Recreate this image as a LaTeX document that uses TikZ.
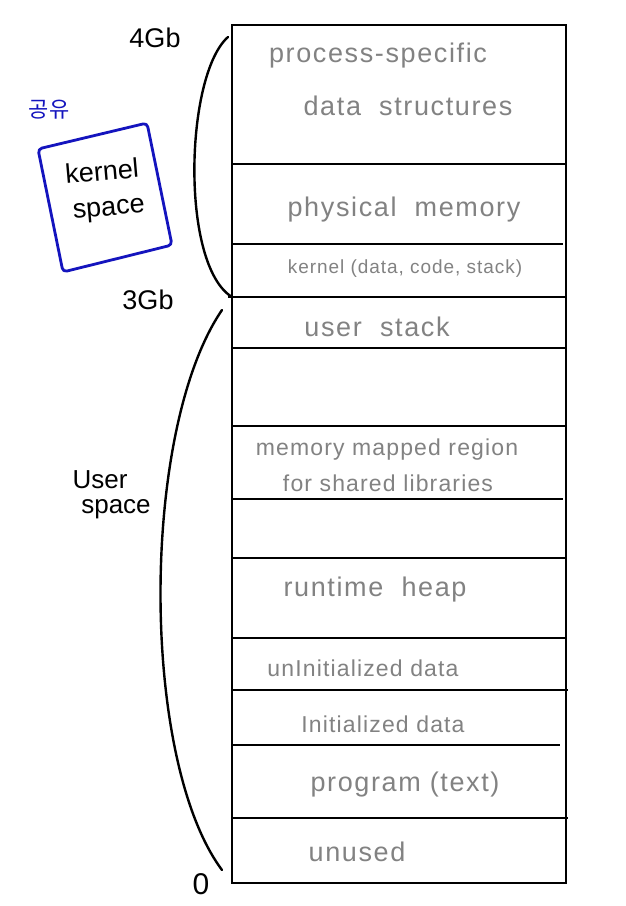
\documentclass[tikz,border=0pt]{standalone}
\usepackage{fontspec}
\setmainfont{Liberation Sans}
\newfontfamily\kofont{Noto Sans CJK KR}
\definecolor{lbl}{RGB}{130,130,130}
\definecolor{pen}{RGB}{20,20,190}
\tikzset{
  seg/.style={line width=2.6pt},
  lab/.style={text=lbl, font=\fontsize{27}{30}\selectfont\addfontfeature{LetterSpace=6}, inner sep=0pt, anchor=center},
  labs/.style={text=lbl, font=\fontsize{23}{26}\selectfont\addfontfeature{LetterSpace=5}, inner sep=0pt, anchor=center},
  side/.style={text=black, font=\fontsize{27}{30}\selectfont, inner sep=0pt},
  curl/.style={line width=2.4pt, line cap=round},
  bluebox/.style={draw=pen, line width=2.8pt, rounded corners=4pt, line join=round}
}
\begin{document}
\begin{tikzpicture}[x=1pt,y=-1pt]
\useasboundingbox[fill=white] (0,0) rectangle (626,906);
% outer frame
\draw[seg] (232,25) rectangle (566,883);
\draw[seg] (232,164) -- (566,164);
\draw[seg] (232,244) -- (563,244);
\draw[seg] (228,297) -- (566,297);
\draw[seg] (232,348) -- (566,348);
\draw[seg] (232,426) -- (566,426);
\draw[seg] (232,499) -- (563,499);
\draw[seg] (232,558) -- (566,558);
\draw[seg] (232,638) -- (566,638);
\draw[seg] (232,690) -- (568,690);
\draw[seg] (232,745) -- (560,745);
\draw[seg] (232,818) -- (568,818);
% labels
\node[lab] (l1) at (378,56) {process-specific};
\node[lab] (l2) at (408,106) {data\ \ structures};
\node[lab] (l3) at (404,210) {physical\ \ memory};
\node[labs, font=\fontsize{19}{21}\selectfont\addfontfeature{LetterSpace=5}] (l4) at (405,269) {kernel (data, code, stack)};
\node[lab] (l5) at (377,327) {user\ \ stack};
\node[labs] (l6) at (387,450) {memory mapped region};
\node[labs] (l7) at (388,483) {for shared libraries};
\node[lab] (l8) at (375,590) {runtime\ \ heap};
\node[labs] (l9) at (363,668) {unInitialized data};
\node[labs] (l10) at (383,724) {Initialized data};
\node[lab] (l11) at (405,785) {program (text)};
\node[lab] (l12) at (357,852) {unused};
% side labels
\node[side] (g4) at (155,38) {4Gb};
\node[side] (g3) at (148,300) {3Gb};
\node[side, font=\fontsize{30}{32}\selectfont] (g0) at (201,884) {0};
\node[side, font=\fontsize{26}{30}\selectfont] (us1) at (100,480) {User};
\node[side, font=\fontsize{26}{30}\selectfont] (us2) at (116,509) {space};
% curves
\draw[curl] (228,37) .. controls (185,75) and (180,265) .. (232,297);
\draw[curl] (222,310) .. controls (140,430) and (140,760) .. (222,870);
% blue box
\draw[bluebox] (38,149) -- (147,123) -- (172,245) -- (63,272) -- cycle;
\node[side, rotate=5] (ks1) at (102,171) {kernel};
\node[side, rotate=5] (ks2) at (109,211) {space};
\node[text=pen, font=\kofont\fontsize{22}{24}\selectfont, inner sep=0pt] (ko) at (49,110) {공유};
\end{tikzpicture}
\end{document}
